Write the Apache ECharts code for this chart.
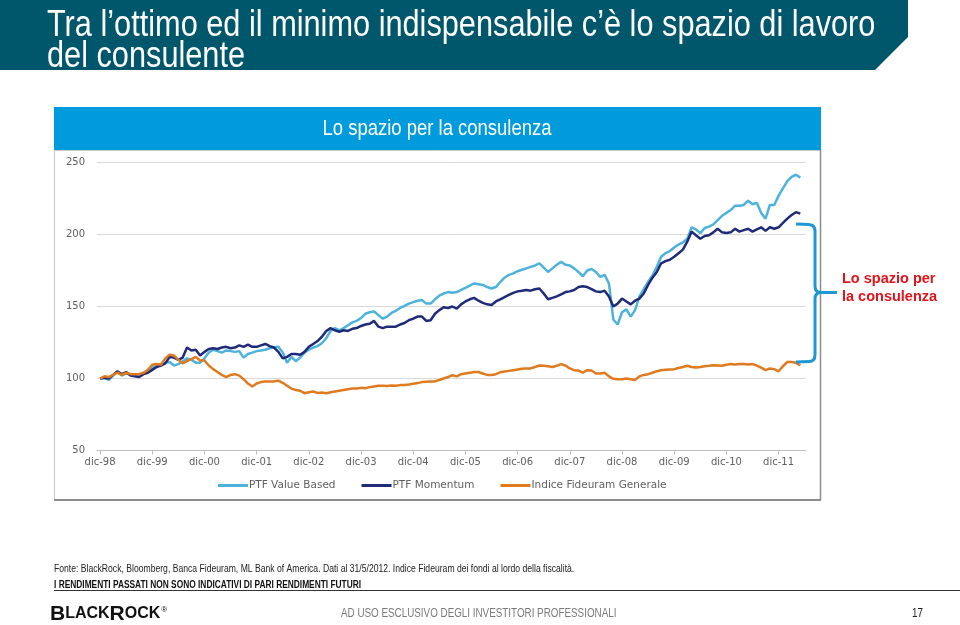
<!DOCTYPE html>
<html><head><meta charset="utf-8">
<script src="https://cdn.jsdelivr.net/npm/echarts@6/dist/echarts.min.js"></script>
<style>html,body{margin:0;padding:0;background:#fff}#c{width:960px;height:625px}</style>
</head><body><div id="c"></div>
<script>
// x tick labels (one per December, every 12 months from dic-98)
const tickLabels = ['dic-98','dic-99','dic-00','dic-01','dic-02','dic-03','dic-04','dic-05','dic-06','dic-07','dic-08','dic-09','dic-10','dic-11'];
const yTicks = [50, 100, 150, 200, 250];
const seriesNames = ['PTF Value Based', 'PTF Momentum', 'Indice Fideuram Generale'];

// Monthly index values, dic-98 (=100) to mag-12
const valueBased = [
  100, 100.5, 99, 102, 104.5, 102, 103.5, 103, 102.5, 103,
  103.5, 105.5, 107.5, 109.5, 110, 111, 111.5, 109, 110, 112,
  114, 113, 111, 111, 114, 118, 120, 119, 118, 119.5,
  119, 118.5, 119, 114.5, 117, 118, 119, 119.5, 120, 121,
  121.5, 122, 118, 111, 115, 112, 114.5, 118, 120, 121.5,
  122.5, 124.5, 128, 133, 135, 133.5, 135, 137, 139, 140,
  142, 145, 146, 146.5, 144, 141.5, 143, 145.5, 147, 149,
  150.5, 152, 153, 154, 154.5, 152, 152, 155, 157.5, 159,
  160, 159.5, 160, 161.5, 163, 164.5, 166, 165.5, 165, 163.5,
  162.5, 163.5, 167, 170, 172, 173, 174.5, 175.5, 176.5, 177.5,
  178.5, 180, 177, 174, 176.5, 179, 181, 179, 178.5, 176.5,
  174, 171, 175, 176, 174, 170.5, 172, 166, 141, 137.5,
  146, 148, 143, 147.5, 157, 162, 167, 171.5, 177.5, 184.5,
  187, 188.5, 191, 193, 194.5, 197, 205, 203.5, 201, 204.5,
  205.5, 207, 210, 213, 215, 217, 220, 220, 220.5, 223.5,
  221, 222, 215, 211, 220.5, 220.5, 227, 232, 237, 240,
  241.5, 239.5
];
const momentum = [
  100, 100.5, 100, 102.5, 105, 103, 104.5, 102, 101.5, 101,
  103, 104, 106, 108, 109, 110.5, 115, 114.5, 113, 114.5,
  121.5, 119.5, 120, 116, 118.5, 120.5, 121, 120.5, 121.5, 122,
  121, 121.5, 123, 122, 123.5, 122, 122, 123, 124, 122.5,
  121.5, 118.5, 114, 115, 117, 117, 116.5, 118.5, 122, 124,
  126, 129, 133, 135, 133.5, 132.5, 133.5, 133, 134.5, 135,
  136.5, 137.5, 138, 140, 136, 135, 136, 136, 136, 137.5,
  138.5, 140.5, 141.5, 143, 143, 140, 140.5, 145, 147.5, 149.5,
  149, 150, 148.5, 151.5, 153.5, 155, 156, 154, 152.5, 151.5,
  151, 153.5, 155, 156.5, 158, 159.5, 160.5, 161, 161.5, 161,
  162, 162.5, 159, 155, 156, 157, 158.5, 160, 160.5, 161.5,
  163.5, 164, 163.5, 162, 160.5, 160, 161, 157, 150, 152,
  155.5, 153.5, 151.5, 154, 155.5, 159, 165, 170, 174, 180,
  181.5, 182.5, 184.5, 187, 189.5, 195, 202, 199.5, 197, 199,
  199.5, 201.5, 204, 201.5, 201, 201.5, 204, 202, 203, 204,
  202, 203.5, 205, 202.5, 205, 204, 205, 208, 211, 213.5,
  215.5, 214.5
];
const fideuram = [
  100, 101.5, 101, 102.5, 104, 102.5, 104, 103, 103, 103,
  104, 106, 109.5, 110, 109.5, 114, 116.5, 116, 113, 110.5,
  112, 113.5, 115, 112.5, 112.5, 109, 106.5, 104.5, 102.5, 101,
  102.5, 103, 102, 99.5, 96.5, 94.5, 96.5, 97.5, 98, 98,
  98, 98.5, 97, 95, 93, 92, 91.5, 89.8, 90.5, 91,
  90, 90.2, 89.8, 90.5, 91, 91.5, 92, 92.5, 93, 93,
  93.5, 93.3, 94, 94.5, 95, 95, 94.8, 95.2, 95, 95.4,
  95.5, 95.8, 96.3, 96.8, 97.5, 97.8, 98, 98, 99, 100,
  101, 102.3, 101.5, 103, 103.5, 104, 104.5, 104.5, 103.5, 102.5,
  102.5, 103, 104.3, 104.8, 105.3, 105.8, 106.3, 106.8, 107, 107,
  108, 109, 108.8, 108.5, 108, 108.8, 110, 109, 107, 105.8,
  105.5, 104, 105.8, 105.5, 103.5, 103.5, 104, 101.5, 99.8, 99.5,
  99.5, 100, 99.5, 99, 101.5, 102.5, 103, 104, 105, 105.7,
  106, 106.3, 106.5, 107.3, 108, 108.8, 108, 107.6, 108, 108.5,
  108.8, 109.2, 109, 108.8, 109.5, 110, 109.8, 110, 110, 109.8,
  110, 109, 107.5, 105.8, 107, 106.5, 105, 108.5, 111.5, 111.5,
  111, 109
];

const tickMonths = tickLabels.map((_, i) => i * 12);
const SANS = '"Liberation Sans", Arial, sans-serif';

const chart = echarts.init(document.getElementById('c'), null, {renderer: 'canvas'});
const toPairs = arr => arr.map((v, i) => [i, v]);

// narrow text helper (Arial Narrow look via horizontal scaling)
function narrowText(x, y, text, font, fill, align, sx) {
  return {type: 'text', z: 5, x: x, y: y, scaleX: sx || 0.82, scaleY: 1,
    style: {text: text, font: font, fill: fill, align: align || 'left', verticalAlign: 'middle'}};
}

// curly bracket annotation pieces
const BR = {stroke: '#1E98D5', lineWidth: 3, fill: null};
function seg(x1, y1, x2, y2) { return {type: 'line', z: 50, shape: {x1, y1, x2, y2}, style: BR}; }
function curve(x1, y1, cx, cy, x2, y2) { return {type: 'bezierCurve', z: 50, shape: {x1, y1, cpx1: cx, cpy1: cy, x2, y2}, style: BR}; }
const bracket = [
  seg(796, 224, 809, 224.5), curve(809, 224.5, 815, 225, 815, 231),
  seg(815, 231, 815, 286), curve(815, 286, 815, 292.5, 821, 292.5),
  seg(820, 292.5, 837, 292.5), curve(821, 292.5, 815, 292.5, 815, 299),
  seg(815, 299, 815, 355), curve(815, 355, 815, 361.5, 809, 361.5),
  seg(809, 361.5, 796, 362)
];

chart.setOption({
  animation: false,
  backgroundColor: '#ffffff',
  grid: {left: 97, top: 162.5, width: 709, height: 288, containLabel: false},
  xAxis: {
    type: 'value', min: -0.7, max: 162.3,
    axisLine: {show: true, lineStyle: {color: '#bdbdbd', width: 1}},
    axisTick: {show: true, customValues: tickMonths, length: 4, lineStyle: {color: '#bdbdbd'}},
    axisLabel: {
      customValues: tickMonths, margin: 7, color: '#5f5f5f', fontSize: 10, fontFamily: 'DejaVu Sans',
      formatter: v => tickLabels[Math.round(v / 12)]
    },
    splitLine: {show: false}
  },
  yAxis: {
    type: 'value', min: yTicks[0], max: yTicks[yTicks.length - 1], interval: 50,
    axisLine: {show: false}, axisTick: {show: false},
    axisLabel: {margin: 12, color: '#5f5f5f', fontSize: 10, fontFamily: 'DejaVu Sans'},
    splitLine: {lineStyle: {color: '#dadada', width: 1}}
  },
  legend: {
    left: 213, top: 475, icon: 'rect', itemWidth: 30, itemHeight: 3, itemGap: 26,
    textStyle: {fontFamily: 'DejaVu Sans', fontSize: 10.5, color: '#5f5f5f', padding: [0, 0, 0, -4]},
    data: seriesNames
  },
  series: [
    {name: seriesNames[0], type: 'line', data: toPairs(valueBased), showSymbol: false, symbol: 'none',
     lineStyle: {width: 2.5, color: '#4DB2DC'}, itemStyle: {color: '#4DB2DC'}, z: 2},
    {name: seriesNames[1], type: 'line', data: toPairs(momentum), showSymbol: false, symbol: 'none',
     lineStyle: {width: 2.5, color: '#1F2A78'}, itemStyle: {color: '#1F2A78'}, z: 3},
    {name: seriesNames[2], type: 'line', data: toPairs(fideuram), showSymbol: false, symbol: 'none',
     lineStyle: {width: 2.5, color: '#E07A1E'}, itemStyle: {color: '#E07A1E'}, z: 4}
  ],
  graphic: [
    {type: 'polygon', z: -10, shape: {points: [[0, 0], [908, 0], [908, 37], [875, 70], [0, 70]]}, style: {fill: '#00566A'}},
    narrowText(47, 26, 'Tra l’ottimo ed il minimo indispensabile c’è lo spazio di lavoro', '37px ' + SANS, '#ffffff', 'left', 0.83),
    narrowText(47, 57, 'del consulente', '37px ' + SANS, '#ffffff', 'left', 0.83),

    {type: 'rect', z: -10, shape: {x: 54.5, y: 150.5, width: 766, height: 349}, style: {fill: '#ffffff', stroke: '#c9c9c9', lineWidth: 1}},
    {type: 'line', z: -9, shape: {x1: 820.5, y1: 150, x2: 820.5, y2: 500}, style: {stroke: '#8c8c8c', lineWidth: 1.5}},
    {type: 'line', z: -9, shape: {x1: 54, y1: 500, x2: 821, y2: 500}, style: {stroke: '#8c8c8c', lineWidth: 2}},
    {type: 'rect', z: -8, shape: {x: 54, y: 107, width: 767, height: 43}, style: {fill: '#009BDD'}},
    narrowText(437, 129, 'Lo spazio per la consulenza', '22px ' + SANS, '#ffffff', 'center', 0.84),

    ...bracket,
    {type: 'text', z: 50, x: 842, y: 279, style: {text: 'Lo spazio per', fill: '#E2141B', font: 'bold 14.5px ' + SANS, verticalAlign: 'middle'}},
    {type: 'text', z: 50, x: 842, y: 297, style: {text: 'la consulenza', fill: '#E2141B', font: 'bold 14.5px ' + SANS, verticalAlign: 'middle'}},

    narrowText(54, 569, 'Fonte: BlackRock, Bloomberg, Banca Fideuram, ML Bank of America. Dati al 31/5/2012. Indice Fideuram dei fondi al lordo della fiscalità.', '10.5px ' + SANS, '#222222'),
    narrowText(54, 585.5, 'I RENDIMENTI PASSATI NON SONO INDICATIVI DI PARI RENDIMENTI FUTURI', 'bold 10.2px ' + SANS, '#111111'),
    {type: 'line', z: 5, shape: {x1: 54, y1: 590.5, x2: 960, y2: 590.5}, style: {stroke: '#333333', lineWidth: 1}},
    {type: 'text', z: 5, x: 50, y: 614, style: {
      text: '{a|B}{b|LACK}{a|R}{b|OCK}{c|®}', verticalAlign: 'middle',
      rich: {
        a: {font: 'bold 21px ' + SANS, fill: '#111111'},
        b: {font: 'bold 16px ' + SANS, fill: '#111111'},
        c: {font: '8px ' + SANS, fill: '#111111', padding: [0, 0, 8, 1]}
      }}},
    narrowText(341, 614, 'AD USO ESCLUSIVO DEGLI INVESTITORI PROFESSIONALI', '12px ' + SANS, '#7a7a7a'),
    narrowText(912, 614, '17', '12px ' + SANS, '#222222')
  ]
});
</script>
</body></html>
